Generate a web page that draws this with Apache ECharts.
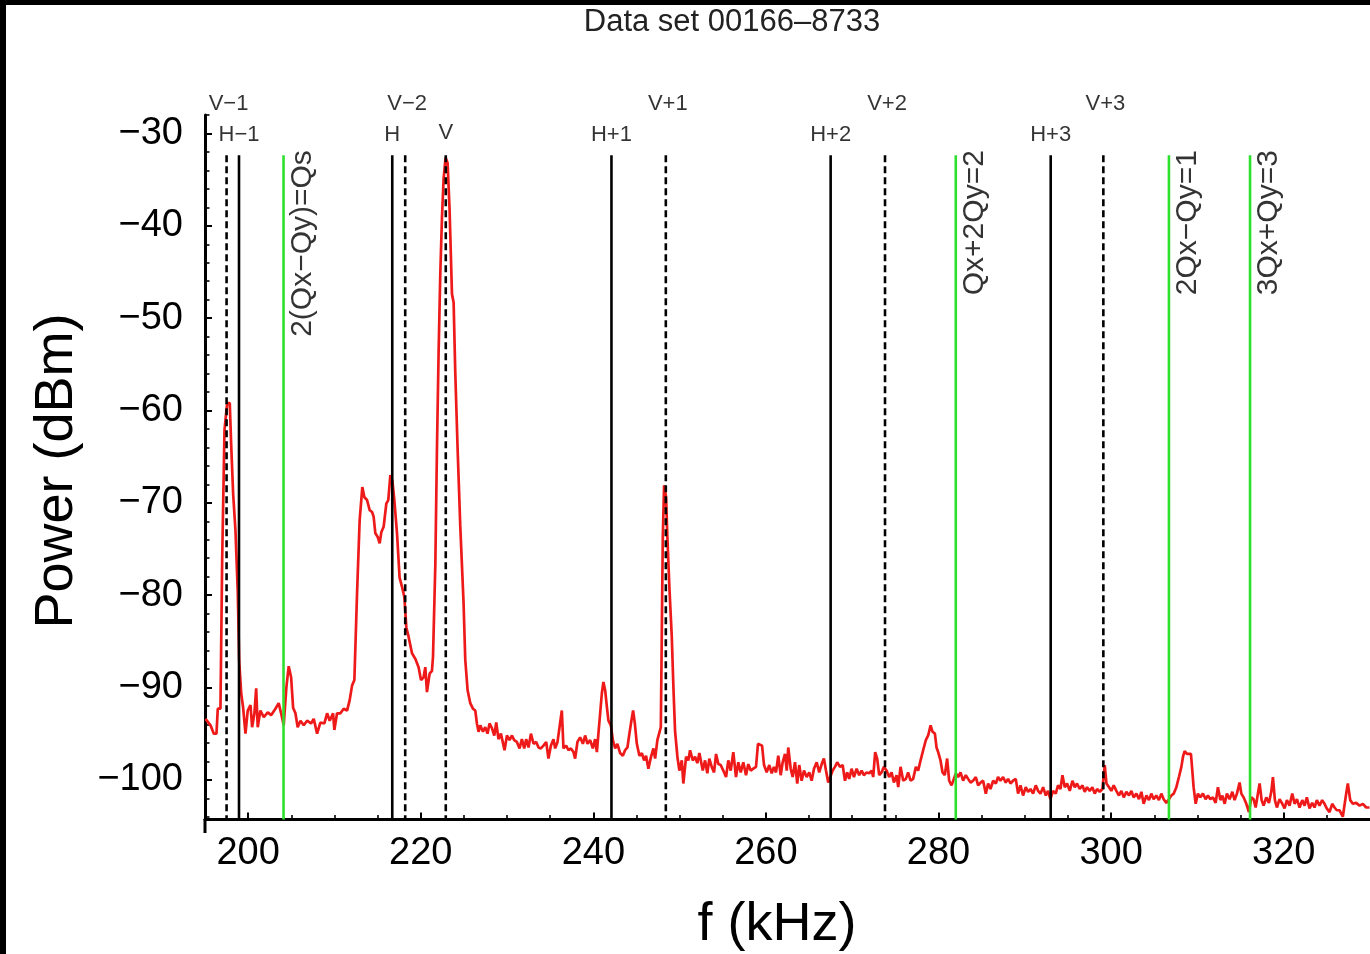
<!DOCTYPE html>
<html>
<head>
<meta charset="utf-8">
<script src="https://cdn.jsdelivr.net/npm/echarts@6/dist/echarts.min.js"></script>
<style>
html,body{margin:0;padding:0;background:#fff;}
#chart{width:1370px;height:954px;}
</style>
</head>
<body>
<div id="chart"></div>
<script>
// ---------------- DATA ----------------
const freq = [
195.06,195.64,196.02,196.33,196.48,196.79,196.99,197.26,197.57,197.87,198.03,198.26,198.53,198.80,198.96,199.19,199.42,199.69,199.95,
200.27,200.46,200.73,200.93,201.11,201.42,201.81,202.27,202.66,203.16,203.54,203.82,204.12,204.43,204.70,204.98,205.21,205.48,205.74,
206.06,206.44,206.83,207.29,207.60,207.99,208.37,208.83,209.15,209.45,209.84,209.99,210.30,210.69,211.07,211.46,211.76,212.04,212.31,
212.62,212.92,213.23,213.47,213.78,214.08,214.36,214.54,214.74,215.01,215.24,215.43,215.70,216.01,216.24,216.48,216.71,216.94,217.25,
217.55,217.83,218.10,218.33,218.59,218.99,219.37,219.75,220.03,220.33,220.53,220.72,221.03,221.30,221.42,221.69,221.88,222.07,222.26,
222.46,222.65,222.88,223.11,223.34,223.62,223.81,224.00,224.27,224.58,224.96,225.16,225.43,225.74,226.05,226.32,226.51,226.70,226.90,
227.21,227.47,227.74,227.97,228.25,228.52,228.75,229.01,229.29,229.52,229.71,229.99,230.29,230.57,230.83,231.14,231.45,231.72,231.99,
232.22,232.49,232.77,233.07,233.38,233.65,233.92,234.22,234.54,234.80,235.08,235.38,235.58,235.85,236.08,236.35,236.54,236.85,237.12,
237.40,237.70,237.89,238.16,238.47,238.79,239.05,239.32,239.63,239.94,240.21,240.41,240.59,240.79,240.99,241.17,241.37,241.57,241.75,
242.03,242.26,242.53,242.79,243.10,243.42,243.68,243.95,244.18,244.41,244.61,244.81,245.04,245.34,245.62,245.88,246.11,246.38,246.66,
246.96,247.16,247.42,247.65,247.82,247.93,248.05,248.20,248.43,248.58,248.81,249.09,249.28,249.47,249.74,249.97,250.25,250.43,250.75,
251.01,251.21,251.52,251.79,252.05,252.29,252.68,252.95,253.21,253.44,253.72,253.99,254.22,254.49,254.76,255.06,255.38,255.64,255.92,
256.22,256.53,256.80,257.08,257.38,257.69,257.96,258.24,258.54,258.85,259.08,259.31,259.55,259.78,260.09,260.39,260.67,260.93,261.17,
261.43,261.71,261.94,262.21,262.41,262.59,262.87,263.10,263.37,263.63,263.86,264.14,264.41,264.72,265.02,265.30,265.57,265.88,266.18,
266.46,266.72,266.96,267.22,267.42,267.73,268.00,268.26,268.58,268.89,269.16,269.42,269.65,269.93,270.20,270.51,270.81,271.09,271.35,
271.67,271.97,272.25,272.43,272.66,272.89,273.13,273.40,273.67,273.98,274.28,274.56,274.83,275.14,275.33,275.60,275.91,276.22,276.48,
276.76,277.06,277.38,277.64,277.92,278.22,278.53,278.80,279.08,279.31,279.58,279.77,279.96,280.23,280.47,280.73,281.00,281.23,281.51,
281.70,282.01,282.27,282.55,282.85,283.16,283.43,283.71,284.01,284.32,284.59,284.87,285.17,285.48,285.75,286.02,286.33,286.64,286.90,
287.18,287.48,287.79,288.06,288.34,288.64,288.95,289.22,289.50,289.80,290.11,290.38,290.66,290.96,291.27,291.54,291.81,292.12,292.43,
292.69,292.97,293.27,293.58,293.85,294.13,294.36,294.63,294.90,295.21,295.52,295.79,296.05,296.36,296.68,296.94,297.21,297.52,297.83,
298.10,298.37,298.68,298.99,299.26,299.46,299.76,300.03,300.30,300.61,300.91,301.19,301.46,301.77,302.07,302.35,302.61,302.93,303.23,
303.51,303.77,304.09,304.39,304.66,304.93,305.24,305.54,305.82,306.09,306.40,306.70,306.98,307.25,307.56,307.86,308.14,308.33,308.52,
308.79,309.02,309.25,309.41,309.56,309.80,310.06,310.34,310.64,310.95,311.22,311.50,311.80,312.11,312.38,312.66,312.89,313.16,313.42,
313.73,314.05,314.31,314.58,314.89,315.09,315.35,315.67,315.97,316.25,316.51,316.75,317.01,317.21,317.44,317.67,317.98,318.29,318.56,
318.75,318.98,319.21,319.52,319.84,320.10,320.37,320.68,320.99,321.26,321.53,321.84,322.15,322.42,322.68,322.99,323.30,323.57,323.84,
324.15,324.46,324.73,324.99,325.31,325.62,325.89,326.15,326.47,326.85,327.24,327.43,327.71,328.01,328.40,328.79,329.17,329.56,329.94
];
const power = [
-93.4,-94.1,-95.0,-95.0,-92.3,-92.3,-76.2,-62.1,-59.2,-59.2,-63.6,-69.0,-73.0,-79.8,-87.1,-90.6,-92.2,-95.0,-92.5,
-91.9,-94.3,-92.8,-90.1,-94.3,-92.5,-93.2,-92.7,-93.0,-92.3,-91.7,-92.8,-94.1,-90.0,-87.7,-88.9,-92.2,-92.8,-94.3,
-93.6,-94.1,-93.6,-93.9,-93.4,-95.0,-93.8,-93.9,-92.8,-93.6,-92.8,-94.6,-92.8,-92.8,-92.3,-92.5,-91.4,-89.8,-89.2,
-79.8,-71.9,-68.3,-69.4,-69.7,-70.8,-71.0,-71.5,-73.3,-73.7,-74.4,-73.2,-72.6,-70.1,-69.7,-67.0,-67.6,-69.7,-73.3,
-78.1,-79.1,-80.2,-83.5,-84.5,-86.3,-86.9,-87.8,-89.2,-88.9,-87.8,-90.5,-88.5,-88.2,-86.7,-76.7,-64.1,-53.7,-45.4,
-39.1,-34.9,-32.6,-33.2,-38.2,-47.4,-48.3,-55.8,-64.1,-72.5,-80.8,-87.0,-90.3,-91.7,-92.3,-92.5,-93.9,-94.8,-94.1,
-94.8,-94.3,-95.0,-93.9,-94.4,-95.2,-93.8,-95.6,-95.0,-94.8,-96.8,-95.2,-95.7,-95.2,-95.7,-95.9,-96.6,-95.6,-96.6,
-95.6,-96.5,-95.0,-96.1,-95.9,-96.5,-96.6,-96.3,-95.9,-97.7,-96.3,-95.6,-96.6,-95.9,-95.7,-92.5,-96.6,-96.3,-96.8,
-96.6,-97.0,-97.7,-95.9,-95.4,-96.1,-95.2,-96.1,-95.7,-96.6,-95.6,-97.0,-95.0,-92.8,-90.6,-89.4,-90.3,-92.1,-93.6,
-94.1,-95.7,-96.6,-96.1,-97.1,-97.4,-96.8,-96.5,-95.0,-93.6,-92.5,-93.9,-96.1,-97.4,-97.1,-97.9,-97.4,-98.8,-97.6,
-96.6,-97.7,-95.7,-95.6,-94.3,-84.5,-73.7,-68.1,-69.4,-73.7,-79.1,-84.5,-90.0,-94.7,-97.5,-99.0,-97.9,-100.4,-97.5,
-97.9,-96.8,-97.9,-97.5,-98.2,-97.1,-99.0,-97.9,-99.3,-97.7,-98.6,-99.2,-97.2,-98.3,-98.4,-99.0,-99.7,-97.9,-99.0,
-97.0,-99.7,-98.1,-99.2,-98.1,-99.5,-98.3,-99.0,-98.8,-98.6,-96.1,-96.0,-96.3,-98.4,-99.2,-98.4,-99.3,-98.6,-99.2,
-97.4,-99.5,-98.1,-97.2,-99.0,-96.5,-98.8,-99.7,-98.1,-100.4,-98.4,-100.1,-99.0,-99.7,-99.2,-100.1,-98.8,-98.1,-99.2,
-98.3,-97.7,-99.0,-100.3,-100.4,-99.0,-98.6,-98.1,-98.6,-98.4,-100.1,-99.2,-99.9,-98.8,-99.7,-98.8,-99.5,-99.0,-99.5,
-99.2,-99.3,-99.0,-99.7,-97.0,-97.7,-99.5,-99.2,-98.6,-99.0,-99.7,-99.2,-100.3,-99.5,-100.8,-98.6,-100.1,-99.9,-99.2,
-100.1,-99.9,-98.6,-99.0,-97.9,-96.8,-95.7,-95.2,-94.1,-94.8,-95.0,-96.5,-97.0,-97.9,-99.2,-99.5,-97.7,-100.1,-100.6,
-100.6,-99.3,-99.7,-99.2,-100.1,-99.5,-99.9,-100.3,-100.1,-99.7,-100.6,-100.3,-100.1,-101.5,-100.4,-101.0,-100.1,-100.4,-99.7,
-100.1,-99.7,-100.3,-99.9,-100.4,-100.1,-99.9,-101.5,-100.6,-101.7,-100.8,-101.3,-101.0,-101.5,-100.6,-101.2,-101.5,-100.8,-101.7,
-101.2,-102.1,-101.2,-101.5,-100.6,-101.0,-99.5,-100.8,-100.4,-101.2,-100.1,-100.8,-100.4,-101.0,-100.6,-101.3,-100.8,-101.2,-100.8,
-101.5,-101.0,-101.3,-101.0,-98.4,-100.4,-100.8,-101.2,-100.6,-101.2,-101.7,-101.2,-101.9,-101.3,-101.7,-101.2,-101.9,-101.5,-102.1,
-101.3,-102.6,-101.7,-102.2,-101.5,-102.1,-101.7,-102.2,-101.5,-102.1,-102.5,-102.1,-101.7,-101.5,-100.8,-99.7,-98.6,-97.5,-96.9,
-97.2,-97.0,-97.2,-99.0,-100.8,-102.6,-101.5,-101.9,-101.5,-102.1,-101.7,-102.1,-101.9,-102.5,-100.8,-102.2,-101.7,-102.6,-101.5,
-102.1,-101.3,-102.2,-101.5,-100.3,-101.5,-101.9,-102.6,-103.5,-101.9,-102.1,-103.0,-101.5,-100.4,-102.2,-102.8,-101.9,-102.5,-101.3,
-99.7,-102.2,-103.0,-102.1,-102.6,-103.1,-102.2,-102.8,-101.5,-102.6,-102.1,-103.0,-102.2,-102.8,-101.9,-103.1,-102.5,-103.0,-102.2,
-102.8,-102.2,-102.6,-103.1,-103.5,-102.6,-103.0,-103.3,-103.3,-104.0,-101.5,-100.4,-102.2,-102.6,-102.5,-102.8,-102.6,-103.0,-103.0
];
// betatron sideband lines (kHz)
const hLines = [198.94, 216.7, 242.1, 267.5, 293.0];
const hLabels = ['H\u22121', 'H', 'H+1', 'H+2', 'H+3'];
const vLines = [197.5, 218.2, 222.9, 248.4, 273.8, 299.1];
const vLabels = ['V\u22121', 'V\u22122', 'V', 'V+1', 'V+2', 'V+3'];
const resLines = [204.1, 282.0, 306.7, 316.1];
const resLabels = ['2(Qx\u2212Qy)=Qs', 'Qx+2Qy=2', '2Qx\u2212Qy=1', '3Qx+Qy=3'];
const yTicks = [-100, -90, -80, -70, -60, -50, -40, -30];
const xTicks = [200, 220, 240, 260, 280, 300, 320];

// ---------------- STYLE / LAYOUT ----------------
const X_MIN = 195, X_MAX = 330, Y_MIN = -104.3, Y_MAX = -28;
const MARK_TOP = -32.35;
const FONT = '"Liberation Sans", Arial, Helvetica, sans-serif';
const upperRowV = [true, true, false, true, true, true];

const yMinor = []; for (let v = -104; v <= -28; v += 2) yMinor.push(v);
const xMinor = []; for (let v = 200; v < 330; v += 5) xMinor.push(v);

const series = [];
series.push({
  type: 'line', name: 'spectrum', xAxisIndex: 0, yAxisIndex: 0,
  data: freq.map((f, i) => [f, power[i]]),
  showSymbol: false, symbol: 'none', clip: true, z: 2,
  lineStyle: { color: '#ee1a1a', width: 2.7 }
});
function vline(f, color, type) {
  series.push({
    type: 'line', xAxisIndex: 0, yAxisIndex: 0, z: 3, symbol: 'none', silent: true,
    data: [[f, MARK_TOP], [f, Y_MIN]],
    lineStyle: { color: color, width: 2.6, type: type }
  });
}
hLines.forEach(f => vline(f, '#000', 'solid'));
vLines.forEach(f => vline(f, '#000', [7, 4]));
resLines.forEach(f => vline(f, '#2ee02e', 'solid'));

const lblBase = { show: true, color: '#000', fontFamily: FONT, fontSize: 22, align: 'center', verticalAlign: 'middle' };
series.push({
  type: 'scatter', xAxisIndex: 0, yAxisIndex: 0, symbolSize: 0, z: 5, silent: true,
  itemStyle: { color: 'rgba(0,0,0,0)' },
  data: [
    ...hLines.map((f, i) => ({ value: [f, MARK_TOP], label: Object.assign({}, lblBase, { formatter: hLabels[i], position: [0, -20] }) })),
    ...vLines.map((f, i) => ({ value: [f, MARK_TOP], label: Object.assign({}, lblBase, { formatter: vLabels[i], position: [upperRowV[i] ? 2 : 0, upperRowV[i] ? -51 : -22] }) })),
    ...resLines.map((f, i) => ({ value: [f, MARK_TOP], label: Object.assign({}, lblBase, { formatter: resLabels[i], fontSize: 30, rotate: 90, align: 'right', position: [19, -5] }) }))
  ]
});

const chart = echarts.init(document.getElementById('chart'), null, { renderer: 'canvas' });
const axisLbl = { color: '#000', fontFamily: FONT, fontSize: 38 };
chart.setOption({
  animation: false,
  backgroundColor: '#fff',
  grid: { left: 205, top: 115, width: 1165, height: 704.5, containLabel: false },
  xAxis: [
    { type: 'value', min: X_MIN, max: X_MAX, position: 'bottom',
      axisLine: { show: true, onZero: false, lineStyle: { color: '#000', width: 3 } },
      axisTick: { show: true, inside: true, length: 7, customValues: xTicks, lineStyle: { color: '#000', width: 2 } },
      axisLabel: Object.assign({ customValues: xTicks, margin: 15 }, axisLbl),
      splitLine: { show: false } },
    { type: 'value', min: X_MIN, max: X_MAX, position: 'bottom', offset: 0,
      axisLine: { show: false },
      axisTick: { show: true, inside: true, length: 4.5, customValues: xMinor, lineStyle: { color: '#000', width: 1.6 } },
      axisLabel: { show: false }, splitLine: { show: false } }
  ],
  yAxis: [
    { type: 'value', min: Y_MIN, max: Y_MAX, position: 'left',
      axisLine: { show: true, onZero: false, lineStyle: { color: '#000', width: 3 } },
      axisTick: { show: true, inside: true, length: 7, customValues: yTicks, lineStyle: { color: '#000', width: 2 } },
      axisLabel: Object.assign({ customValues: yTicks, margin: 22, formatter: v => String(v).replace('-', '\u2212') }, axisLbl),
      splitLine: { show: false } },
    { type: 'value', min: Y_MIN, max: Y_MAX, position: 'left', offset: 0,
      axisLine: { show: false },
      axisTick: { show: true, inside: true, length: 4.5, customValues: yMinor, lineStyle: { color: '#000', width: 1.6 } },
      axisLabel: { show: false }, splitLine: { show: false } }
  ],
  series: series,
  graphic: [
    { type: 'rect', shape: { x: 0, y: 0, width: 1370, height: 5 }, style: { fill: '#000' }, z: 100 },
    { type: 'rect', shape: { x: 0, y: 0, width: 6, height: 954 }, style: { fill: '#000' }, z: 100 },
    { type: 'line', shape: { x1: 205, y1: 819, x2: 205, y2: 833 }, style: { stroke: '#000', lineWidth: 3 }, z: 100 },
    { type: 'text', x: 732, y: 22, z: 100,
      style: { text: 'Data set 00166\u20138733', fontFamily: FONT, fontSize: 31, fill: '#222', textAlign: 'center', textVerticalAlign: 'middle' } },
    { type: 'text', x: 777, y: 925, z: 100,
      style: { text: 'f (kHz)', fontFamily: FONT, fontSize: 54, fill: '#000', textAlign: 'center', textVerticalAlign: 'middle' } },
    { type: 'text', x: 57, y: 471, rotation: Math.PI / 2, z: 100,
      style: { text: 'Power (dBm)', fontFamily: FONT, fontSize: 54, fill: '#000', textAlign: 'center', textVerticalAlign: 'middle' } }
  ]
});
</script>
</body>
</html>
